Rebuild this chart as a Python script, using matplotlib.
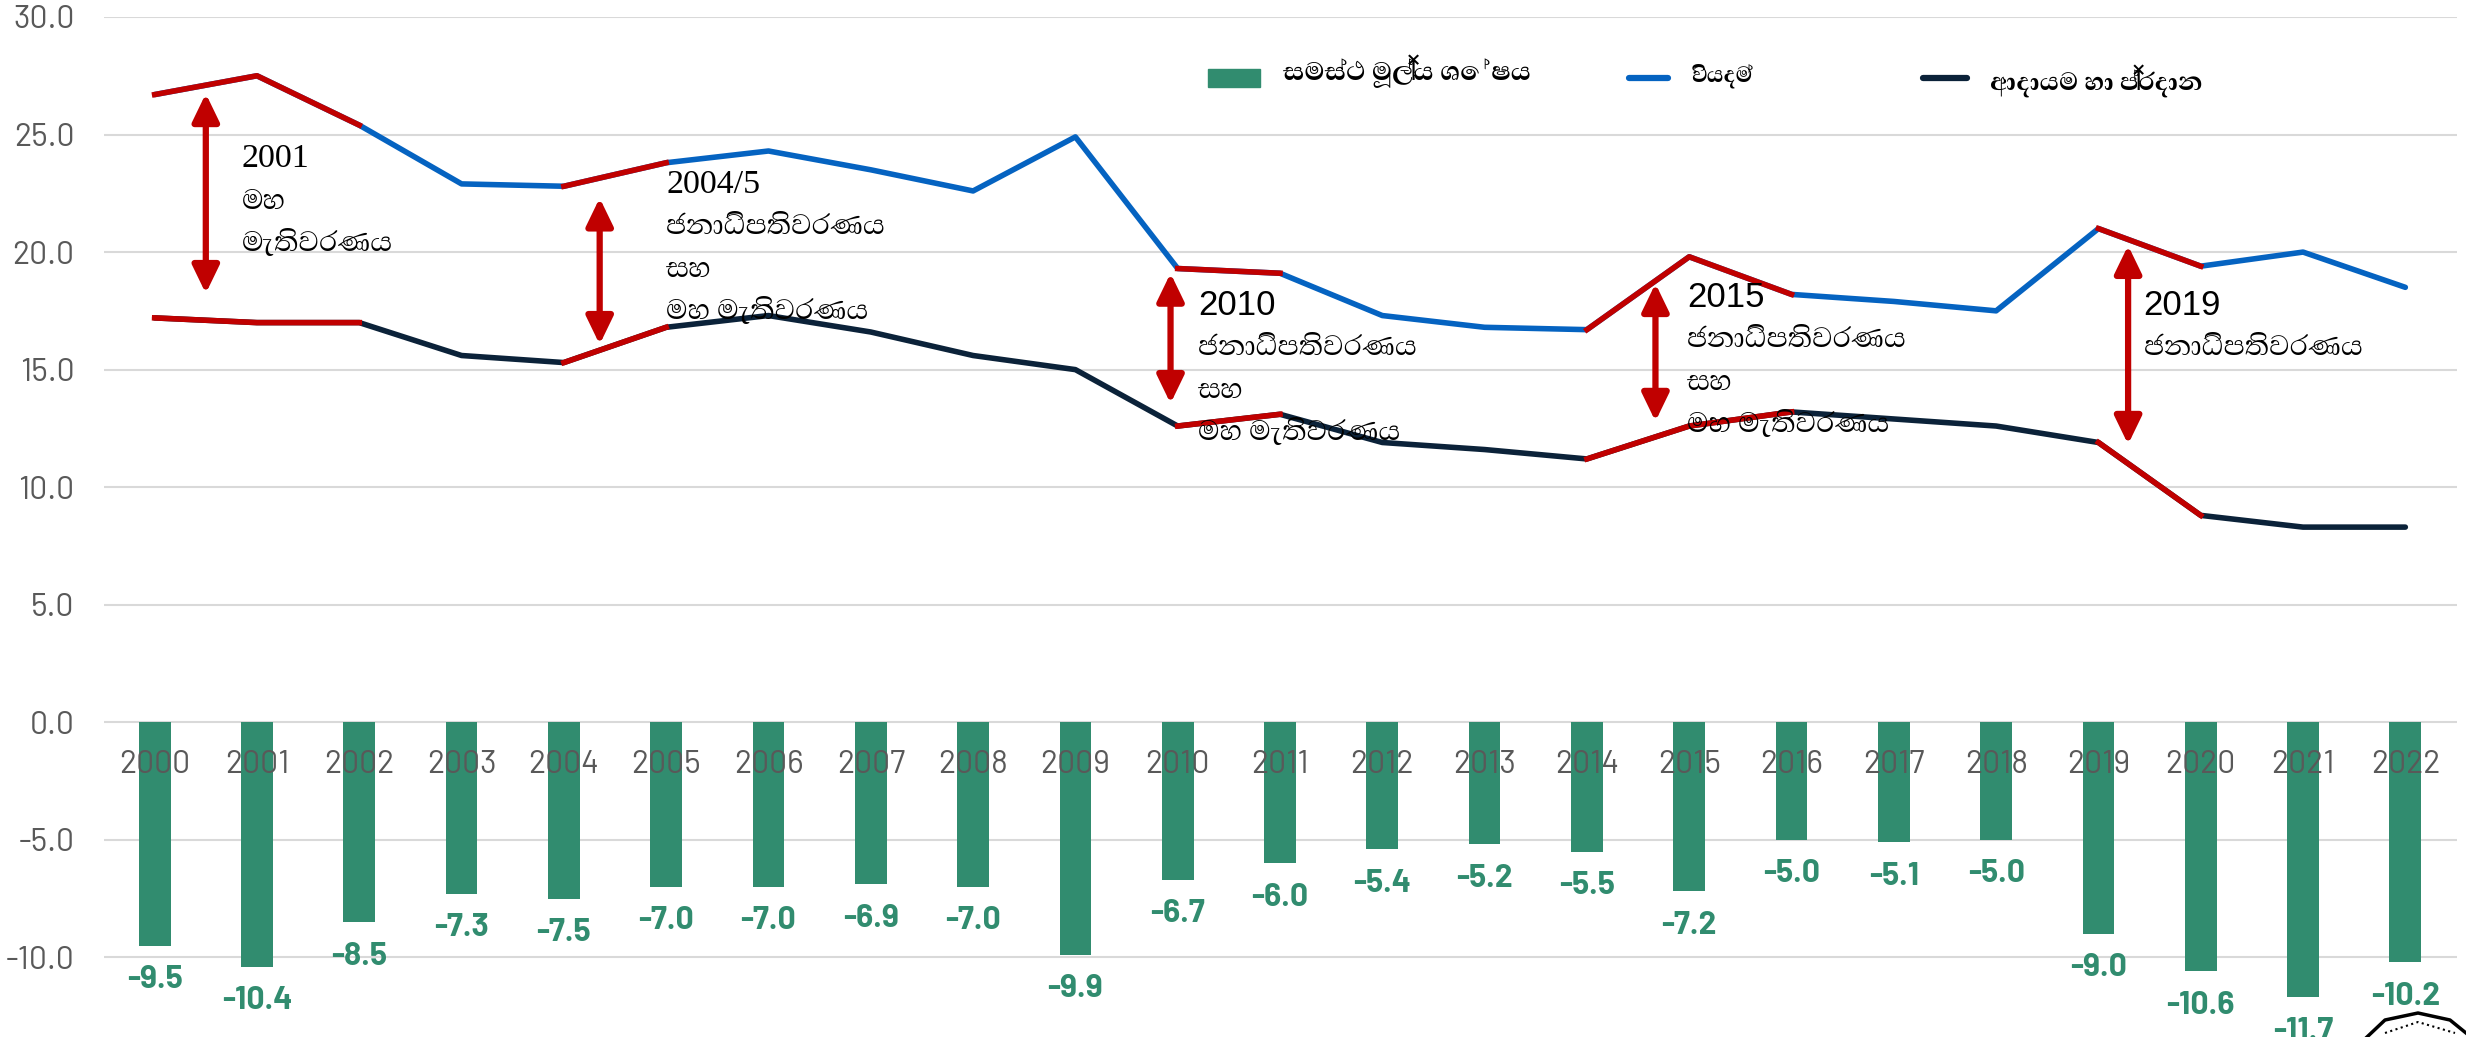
import matplotlib
matplotlib.use('Agg')
import matplotlib.pyplot as plt
from matplotlib.lines import Line2D
from matplotlib.patches import Rectangle

years = [str(y) for y in range(2000, 2023)]
balance = [-9.5, -10.4, -8.5, -7.3, -7.5, -7.0, -7.0, -6.9, -7.0, -9.9, -6.7, -6.0,
           -5.4, -5.2, -5.5, -7.2, -5.0, -5.1, -5.0, -9.0, -10.6, -11.7, -10.2]
expenditure = [26.7, 27.5, 25.4, 22.9, 22.8, 23.8, 24.3, 23.5, 22.6, 24.9, 19.3, 19.1,
               17.3, 16.8, 16.7, 19.8, 18.2, 17.9, 17.5, 21.0, 19.4, 20.0, 18.5]
revenue = [17.2, 17.0, 17.0, 15.6, 15.3, 16.8, 17.3, 16.6, 15.6, 15.0, 12.6, 13.1,
           11.9, 11.6, 11.2, 12.6, 13.2, 12.9, 12.6, 11.9, 8.8, 8.3, 8.3]
y_ticks = [-10, -5, 0, 5, 10, 15, 20, 25, 30]
y_labels = ['-10.0', '-5.0', '0.0', '5.0', '10.0', '15.0', '20.0', '25.0', '30.0']

# election periods drawn in red (first and last year index)
election_spans = [(0, 2), (4, 5), (10, 11), (14, 16), (19, 20)]

legend_labels = ['සමස්ථ මූල්‍ය ශේෂය', 'වියදම්', 'ආදායම හා ප්‍රදාන']
presidential = 'ජනාධිපතිවරණය'
general = 'මහ මැතිවරණය'
both = 'සහ'

GREEN = '#318C6F'
BLUE = '#0563C1'
NAVY = '#0B2239'
RED = '#C00000'
GREY = '#595959'
W, H = 2466, 1037
NUM_FONT = ['Barlow', 'Roboto', 'DejaVu Sans']
SI_FONT = ['Abhaya Libre', 'Noto Serif Sinhala', 'Noto Sans', 'DejaVu Sans']

plt.rcParams['font.family'] = NUM_FONT

fig = plt.figure(figsize=(W / 100, H / 100), dpi=100)
ax = fig.add_axes([103.5 / W, 0, 2353 / W, (H - 17) / H])
ax.set_xlim(-0.5, 22.5)
ax.set_ylim(-13.39, 30)

x = list(range(len(years)))
ax.bar(x, balance, width=0.31, color=GREEN, zorder=1)
ax.plot(x, expenditure, color=BLUE, lw=4, zorder=2, solid_capstyle='round')
ax.plot(x, revenue, color=NAVY, lw=4, zorder=2, solid_capstyle='round')
for a, b in election_spans:
    ax.plot(x[a:b + 1], expenditure[a:b + 1], color=RED, lw=4, zorder=3)
    ax.plot(x[a:b + 1], revenue[a:b + 1], color=RED, lw=4, zorder=3)

for i, v in enumerate(balance):
    ax.annotate(f'{v:.1f}', (i, v), xytext=(0, -24.5), textcoords='offset points',
                ha='center', va='center', fontsize=23, fontweight='bold', color=GREEN,
                annotation_clip=False, zorder=4)

# double arrows between the two lines
arrows = [(0.5, 26.74, 18.24), (4.35, 22.3, 16.07), (9.93, 19.1, 13.56),
          (14.67, 18.66, 12.8), (19.29, 20.28, 11.82)]
for ax_x, top, bottom in arrows:
    ax.annotate('', xy=(ax_x, top), xytext=(ax_x, bottom), zorder=5,
                arrowprops=dict(arrowstyle='<|-|>,head_length=0.62,head_width=0.3',
                                mutation_scale=27, color=RED, lw=4.5,
                                shrinkA=0, shrinkB=0))

# election notes
notes = [
    (0.85, 23.95, '2001', ['මහ', 'මැතිවරණය'], 'Liberation Serif', 24.5),
    (5.0, 22.87, '2004/5', [presidential, both, general], 'Liberation Serif', 24.5),
    (10.2, 17.73, '2010', [presidential, both, general], 'Liberation Sans', 25),
    (14.98, 18.07, '2015', [presidential, both, general], 'Liberation Sans', 25),
    (19.44, 17.73, '2019', [presidential], 'Liberation Sans', 25),
]
for nx, ny, year, lines, fam, size in notes:
    ax.text(nx, ny, year, fontsize=size, family=[fam, 'DejaVu Sans'], color='black',
            ha='left', va='center', zorder=6)
    for k, line in enumerate(lines):
        ax.text(nx, ny - 1.8 * (k + 1), line, fontsize=26, family=SI_FONT, color='black',
                ha='left', va='center', zorder=6)

ax.set_xticks(x)
ax.set_xticklabels(years)
ax.set_yticks(y_ticks)
ax.set_yticklabels(y_labels)
ax.tick_params(axis='x', length=0, labelsize=23, labelcolor=GREY, pad=20)
ax.tick_params(axis='y', length=0, labelsize=23, labelcolor=GREY, pad=21)
ax.spines['bottom'].set_position(('data', 0))
for s in ax.spines.values():
    s.set_visible(False)
ax.grid(axis='y', color='#D9D9D9', lw=1.5)
ax.xaxis.set_zorder(7)
ax.yaxis.set_zorder(0.5)

# legend laid out by hand, the three entries are unevenly spaced
fig.add_artist(Rectangle((1208 / W, 1 - 87 / H), 52 / W, 18 / H, color=GREEN,
                         transform=fig.transFigure))
fig.add_artist(Line2D([1629 / W, 1668 / W], [1 - 78 / H] * 2, color=BLUE, lw=4.5,
                      solid_capstyle='round', transform=fig.transFigure))
fig.add_artist(Line2D([1923 / W, 1967 / W], [1 - 78 / H] * 2, color=NAVY, lw=4.5,
                      solid_capstyle='round', transform=fig.transFigure))
for lx, ly, label, size in zip([1283, 1691, 1990], [71, 76, 82], legend_labels, [24, 20, 23]):
    fig.text(lx / W, 1 - ly / H, label, fontsize=size, fontweight='bold', family=SI_FONT,
             color='black', ha='left', va='center')

# seal cut off at the bottom right corner
seal_x = [2367, 2385, 2418, 2450, 2466]
seal_y = [1037, 1020, 1013, 1020, 1033]
fig.add_artist(Line2D([v / W for v in seal_x], [1 - v / H for v in seal_y], color='black',
                      lw=2.5, transform=fig.transFigure))
fig.add_artist(Line2D([2385 / W, 2418 / W, 2455 / W], [1 - 1033 / H, 1 - 1022 / H, 1 - 1033 / H],
                      color='black', lw=1.5, ls=':', transform=fig.transFigure))

fig.savefig('out.png', dpi=100)
